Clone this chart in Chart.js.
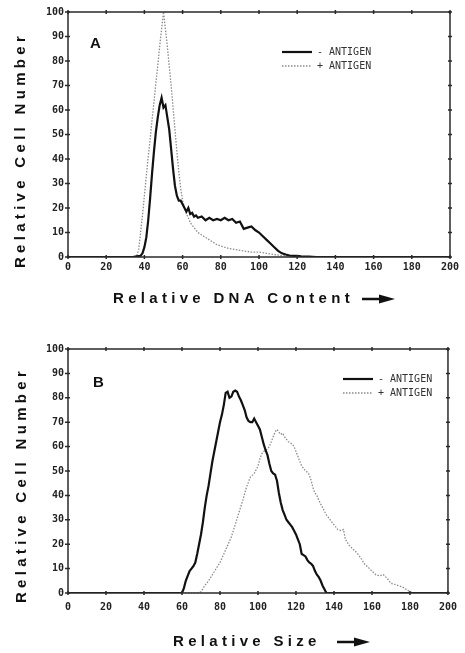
<!DOCTYPE html>
<html>
<head>
<meta charset="utf-8">
<title>Relative DNA content and size</title>
<script src="https://cdn.jsdelivr.net/npm/chart.js@4.4.1/dist/chart.umd.min.js"></script>
<style>
  html, body { margin: 0; padding: 0; background: #fff; }
  canvas { position: absolute; left: 0; }
</style>
</head>
<body>
<canvas id="chartA" width="465" height="326" style="top:0"></canvas>
<canvas id="chartB" width="465" height="327" style="top:326px"></canvas>
<script>
// Panel A: relative DNA content histograms
const dnaMinusX = [0, 34, 36, 38, 39, 40,
  41, 42, 43, 44, 45, 46, 47, 48, 49, 50, 51, 52, 53, 54, 55, 56, 57, 58, 59, 60,
  61, 62, 63, 64, 65, 66, 67, 68,
  70, 72, 74, 76, 78, 80, 82, 84, 86, 88, 90, 92, 94, 96, 98, 100,
  102, 104, 106, 108, 110, 112, 114, 116, 118, 120, 122, 126, 130, 200];
const dnaMinusY = [0, 0, 0.3, 0.5, 1.5, 4,
  8, 15, 24, 34, 43, 51, 57, 62, 65, 61, 62, 57, 52, 44, 36, 29, 25, 23, 23, 21.5,
  20, 18.5, 20, 17.5, 18, 16.5, 17, 16,
  16.5, 15, 16, 15, 15.5, 15, 16, 15, 15.5, 14, 14.5, 11.5, 12, 12.5, 11, 10,
  8.5, 7, 5.5, 4, 2.5, 1.5, 1, 0.6, 0.5, 0.5, 0.3, 0.2, 0, 0];

const dnaPlusX = [0, 34, 36, 37,
  38, 39, 40, 41, 42, 43, 44, 45, 46, 47, 48, 49, 50, 51, 52, 53, 54, 55, 56, 57, 58, 59, 60, 61, 62, 63, 64,
  66, 68, 70, 72, 74, 76, 78, 80,
  84, 88, 92, 96, 100, 104, 108, 112, 116, 120, 124, 200];
const dnaPlusY = [0, 0, 0.5, 3,
  10, 17, 25, 33, 41, 48, 56, 63, 71, 78, 86, 93, 100, 93, 86, 78, 70, 61, 52, 43, 35, 28, 23, 20, 17.5, 16, 14,
  12, 10, 9, 8, 7, 6, 5, 4.5,
  3.5, 3, 2.5, 2, 2, 1.5, 1, 0.6, 0.4, 0.2, 0, 0];

// Panel B: relative size histograms
const sizeMinusX = [0, 60, 61, 62, 63, 64, 65, 66, 67, 68, 69, 70,
  71, 72, 73, 74, 75, 76, 77, 78, 79, 80, 81, 82, 83, 84, 85, 86, 87, 88, 89, 90,
  91, 92, 93, 94, 95, 96, 97, 98, 99, 100, 101, 102, 103, 104, 105, 106, 107, 108, 109, 110,
  111, 112, 113, 114, 115, 116, 117, 118, 119, 120, 121, 122, 123, 124, 125, 126, 127, 128, 129, 130,
  131, 132, 133, 134, 135, 136, 200];
const sizeMinusY = [0, 0, 2, 5, 7, 9, 10, 11, 12.5, 16, 20, 24,
  29, 35, 40, 44, 49, 54, 58, 62, 66, 70, 73, 77, 82, 82.5, 80, 80.5, 82.5, 83, 82.5, 80.5,
  79, 77, 75, 72, 70.5, 70, 70, 71.5, 70, 68.5, 67, 64, 61, 58.5, 56.5, 53, 50, 49, 48.5, 46,
  41, 37, 34, 32, 30, 29, 28, 27, 25.5, 24, 22, 20, 16, 15.5, 15, 13.5, 12.5, 12, 11, 9,
  7.5, 6.5, 5, 3, 1.5, 0, 0];

const sizePlusX = [0, 68, 70, 72, 74, 76, 78, 80, 82, 84, 86, 88, 90, 92, 94, 96, 98,
  100, 101, 102, 103, 104, 105, 106, 107, 108, 109, 110, 111, 112, 113, 114, 115, 116, 117, 118, 119,
  120, 121, 122, 123, 124, 125, 126, 127, 128, 129, 130, 131, 132, 134, 136, 138, 140, 142, 144, 145,
  146, 148, 150, 152, 154, 156, 158, 160, 162, 164, 166, 168, 170, 172, 174, 176, 178, 180, 182, 200];
const sizePlusY = [0, 0, 0.5, 3, 5, 7.5, 10, 12.5, 16, 19.5, 23, 28, 33, 38, 43.5, 47.5, 49,
  52, 55, 57, 58, 58.5, 59, 60, 62, 64, 66, 67, 66, 65, 65.5, 64, 63, 62, 61.5, 61, 60,
  58, 56, 54, 52, 51, 50, 49.5, 48.5, 46, 43, 41, 40, 38, 35, 32, 30, 28, 26, 25.5, 26,
  22, 19.5, 18, 16.5, 14.5, 12, 10.5, 9, 7.5, 7, 7.5, 6, 4, 3.5, 3, 2.5, 1.5, 0.5, 0, 0];

const seriesLabels = ['- ANTIGEN', '+ ANTIGEN'];
const yTitle = 'Relative Cell Number';

function pairs(xs, ys) {
    return xs.map((x, i) => ({ x: x, y: ys[i] }));
}

// frame, tick marks, panel letter, legend and axis titles
const panelDecor = {
    id: 'panelDecor',
    afterDraw(chart, args, o) {
        const ctx = chart.ctx;
        const a = chart.chartArea;
        const xs = chart.scales.x, ys = chart.scales.y;
        ctx.save();
        ctx.strokeStyle = '#2a2a2a';
        ctx.lineWidth = 1.5;
        ctx.strokeRect(a.left, a.top, a.right - a.left, a.bottom - a.top);
        ctx.beginPath();
        xs.ticks.forEach(t => {
            const px = xs.getPixelForValue(t.value);
            ctx.moveTo(px, a.top - 2); ctx.lineTo(px, a.top + 2);
            ctx.moveTo(px, a.bottom - 2); ctx.lineTo(px, a.bottom + 2);
        });
        ys.ticks.forEach(t => {
            const py = ys.getPixelForValue(t.value);
            ctx.moveTo(a.left - 3, py); ctx.lineTo(a.left + 2, py);
            ctx.moveTo(a.right - 2, py); ctx.lineTo(a.right + 2, py);
        });
        ctx.stroke();

        // panel letter
        ctx.fillStyle = '#111';
        ctx.textBaseline = 'middle';
        ctx.textAlign = 'left';
        ctx.font = 'bold 15px "Liberation Sans", Arial, sans-serif';
        ctx.fillText(o.letter, o.letterX, o.letterY);

        // legend
        ctx.font = '10px "DejaVu Sans Mono", monospace';
        chart.data.datasets.forEach((ds, i) => {
            const y = o.legendY + i * o.legendGap;
            ctx.strokeStyle = ds.borderColor;
            ctx.lineWidth = ds.borderWidth;
            ctx.setLineDash(ds.borderDash || []);
            ctx.beginPath();
            ctx.moveTo(o.legendX, y);
            ctx.lineTo(o.legendX + 30, y);
            ctx.stroke();
            ctx.setLineDash([]);
            ctx.fillStyle = '#333';
            ctx.fillText(ds.label, o.legendX + 35, y);
        });

        // axis titles
        ctx.fillStyle = '#111';
        ctx.font = 'bold 15px "Liberation Sans", Arial, sans-serif';
        ctx.letterSpacing = '4.3px';
        ctx.fillText(o.xTitle, o.xTitleX, o.xTitleY);
        ctx.save();
        ctx.translate(o.yTitleX, o.yTitleY);
        ctx.rotate(-Math.PI / 2);
        ctx.textAlign = 'center';
        ctx.fillText(yTitle, 0, 0);
        ctx.restore();
        ctx.letterSpacing = '0px';

        // arrow after the x title
        const ax = o.arrowX, ay = o.xTitleY;
        ctx.strokeStyle = '#111';
        ctx.lineWidth = 2.5;
        ctx.beginPath();
        ctx.moveTo(ax, ay);
        ctx.lineTo(ax + 22, ay);
        ctx.stroke();
        ctx.beginPath();
        ctx.moveTo(ax + 17, ay - 4.5);
        ctx.lineTo(ax + 33, ay);
        ctx.lineTo(ax + 17, ay + 4.5);
        ctx.closePath();
        ctx.fill();
        ctx.restore();
    }
};

function makeChart(id, minus, plus, decor, topPad, xAxisHeight, xPad) {
    const ctx = document.getElementById(id).getContext('2d');
    return new Chart(ctx, {
        type: 'line',
        data: {
            datasets: [{
                label: seriesLabels[0],
                data: minus,
                borderColor: '#111',
                borderWidth: 2.2,
                pointRadius: 0,
                tension: 0,
                fill: false
            }, {
                label: seriesLabels[1],
                data: plus,
                borderColor: '#8c8c8c',
                borderWidth: 1.3,
                borderDash: [1.5, 1.5],
                pointRadius: 0,
                tension: 0,
                fill: false
            }]
        },
        options: {
            responsive: false,
            animation: false,
            layout: { padding: { top: topPad, right: 15, left: 0, bottom: 0 } },
            scales: {
                x: {
                    type: 'linear',
                    min: 0,
                    max: 200,
                    grid: { display: false, drawTicks: false },
                    border: { display: false },
                    afterFit: s => { s.height = xAxisHeight; },
                    ticks: {
                        stepSize: 20,
                        autoSkip: false,
                        maxRotation: 0,
                        padding: xPad,
                        color: '#222',
                        font: { family: '"DejaVu Sans Mono", monospace', size: 10, weight: 'bold' }
                    }
                },
                y: {
                    min: 0,
                    max: 100,
                    grid: { display: false, drawTicks: false },
                    border: { display: false },
                    afterFit: s => { s.width = 68; },
                    ticks: {
                        stepSize: 10,
                        padding: 4,
                        color: '#222',
                        font: { family: '"DejaVu Sans Mono", monospace', size: 10, weight: 'bold' }
                    }
                }
            },
            plugins: {
                legend: { display: false },
                tooltip: { enabled: false },
                panelDecor: decor
            }
        },
        plugins: [panelDecor]
    });
}

makeChart('chartA', pairs(dnaMinusX, dnaMinusY), pairs(dnaPlusX, dnaPlusY), {
    letter: 'A', letterX: 90, letterY: 44,
    legendX: 282, legendY: 52, legendGap: 14,
    xTitle: 'Relative DNA Content', xTitleX: 113, xTitleY: 299, arrowX: 362,
    yTitleX: 21, yTitleY: 150
}, 12, 69, 4);

makeChart('chartB', pairs(sizeMinusX, sizeMinusY), pairs(sizePlusX, sizePlusY), {
    letter: 'B', letterX: 93, letterY: 57,
    legendX: 343, legendY: 53, legendGap: 14,
    xTitle: 'Relative Size', xTitleX: 173, xTitleY: 316, arrowX: 337,
    yTitleX: 22, yTitleY: 159
}, 23, 60, 8);
</script>
</body>
</html>
